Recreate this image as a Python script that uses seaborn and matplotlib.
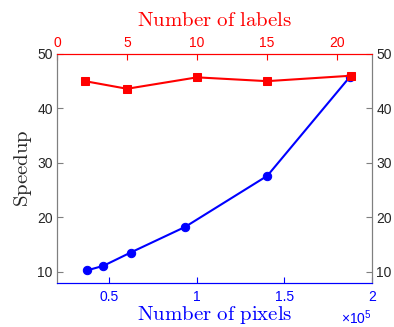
import matplotlib
matplotlib.use("Agg")
import matplotlib.pyplot as plt
import seaborn as sns
import pandas as pd

# Data
pixels = [37300, 46800, 62400, 93400, 140300, 187400]
speedup_pixels = [10.2, 11.05, 13.5, 18.2, 27.6, 45.8]
labels = [2, 5, 10, 15, 21]
speedup_labels = [45.0, 43.6, 45.7, 45.0, 46.0]
yticks = [10, 20, 30, 40, 50]
pix_ticks = [50000, 100000, 150000, 200000]
pix_ticklabels = ['0.5', '1', '1.5', '2']
lab_ticks = [0, 5, 10, 15, 20]

sns.set_style("white")
plt.rcParams['font.family'] = ['Liberation Sans', 'DejaVu Sans']
plt.rcParams['mathtext.fontset'] = 'cm'

BLUE = '#0000ff'
RED = '#ff0000'
GRAY = '#7f7f7f'
TXT = '#262626'

fig = plt.figure(figsize=(3.94, 3.27), dpi=100)
ax = fig.add_axes([0.1447, 0.1346, 0.7995, 0.7004])

df1 = pd.DataFrame({'pixels': pixels, 'speedup': speedup_pixels})
sns.lineplot(data=df1, x='pixels', y='speedup', ax=ax, color=BLUE, marker='o',
             markersize=6, markeredgecolor=BLUE, linewidth=1.5)
ax.set_xlim(20400, 200000)
ax.set_ylim(7.9, 50)
ax.set_xticks(pix_ticks)
ax.set_xticklabels(pix_ticklabels)
ax.set_yticks(yticks)
ax.tick_params(axis='x', colors=BLUE, direction='in', length=4, labelsize=10, pad=5)
ax.tick_params(axis='y', colors=GRAY, labelcolor=TXT, direction='in', length=4,
               labelsize=10, right=True, labelright=True, left=True, pad=3)
ax.set_xlabel(r'$\mathrm{Number\ of\ pixels}$', color=BLUE, fontsize=15, labelpad=0)
ax.set_ylabel(r'$\mathrm{Speedup}$', color=TXT, fontsize=15, labelpad=2)
ax.text(1.0, -0.11, r'$\mathregular{\times10^{5}}$', transform=ax.transAxes, color=BLUE,
        fontsize=10, ha='right', va='top')

ax2 = ax.twiny()
df2 = pd.DataFrame({'labels': labels, 'speedup': speedup_labels})
sns.lineplot(data=df2, x='labels', y='speedup', ax=ax2, color=RED, marker='s',
             markersize=5.5, markeredgecolor=RED, linewidth=1.5)
ax2.set_xlim(0, 22.5)
ax2.set_xticks(lab_ticks)
ax2.tick_params(axis='x', colors=RED, direction='in', length=4, labelsize=10, pad=3)
ax2.set_xlabel(r'$\mathrm{Number\ of\ labels}$', color=RED, fontsize=15, labelpad=7)
ax2.set_ylabel('')

for a in (ax, ax2):
    a.spines['left'].set_color(GRAY)
    a.spines['right'].set_color(GRAY)
    a.spines['top'].set_color(RED)
    a.spines['bottom'].set_color(BLUE)
    for s in a.spines.values():
        s.set_linewidth(0.8)

fig.savefig('out.png', dpi=100)
